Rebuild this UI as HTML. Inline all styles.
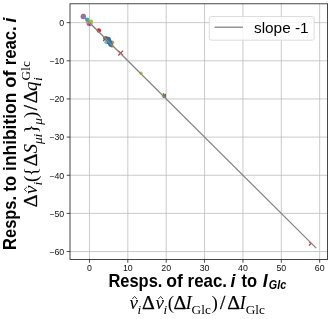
<!DOCTYPE html>
<html><head><meta charset="utf-8"><title>chart</title>
<style>
html,body{margin:0;padding:0;background:#fff;}
body{width:333px;height:319px;overflow:hidden;}
svg{display:block;will-change:transform;}
text{font-family:"Liberation Sans",sans-serif;fill:#000;}
.tick{font-size:8.8px;fill:#111;}
.lab{font-weight:bold;font-size:17.8px;}
.labs{font-weight:bold;font-style:italic;font-size:12px;}
.math{font-family:"Liberation Serif",serif;font-size:19px;}
.ms{font-family:"Liberation Serif",serif;font-size:13.3px;}
.it{font-style:italic;}
</style></head><body>
<svg width="333" height="319" viewBox="0 0 333 319">
<rect x="0" y="0" width="333" height="319" fill="#ffffff"/>

<g stroke="#bebebe" stroke-width="0.8" fill="none">
<line x1="89.45" y1="3.8" x2="89.45" y2="259.4"/>
<line x1="127.82" y1="3.8" x2="127.82" y2="259.4"/>
<line x1="166.19" y1="3.8" x2="166.19" y2="259.4"/>
<line x1="204.56" y1="3.8" x2="204.56" y2="259.4"/>
<line x1="242.93" y1="3.8" x2="242.93" y2="259.4"/>
<line x1="281.30" y1="3.8" x2="281.30" y2="259.4"/>
<line x1="319.67" y1="3.8" x2="319.67" y2="259.4"/>
<line x1="70.0" y1="22.65" x2="327.6" y2="22.65"/>
<line x1="70.0" y1="60.80" x2="327.6" y2="60.80"/>
<line x1="70.0" y1="98.95" x2="327.6" y2="98.95"/>
<line x1="70.0" y1="137.10" x2="327.6" y2="137.10"/>
<line x1="70.0" y1="175.25" x2="327.6" y2="175.25"/>
<line x1="70.0" y1="213.40" x2="327.6" y2="213.40"/>
<line x1="70.0" y1="251.55" x2="327.6" y2="251.55"/>
</g>
<g><circle cx="83.4" cy="15.9" r="2.3" fill="#ff7f0e" fill-opacity="1"/><circle cx="83.3" cy="16.6" r="2.7" fill="#9467bd" fill-opacity="1"/><circle cx="89.7" cy="23.2" r="3.4" fill="#9ecbe8" fill-opacity="0.8"/><circle cx="88.2" cy="22.8" r="2.0" fill="#b09a88" fill-opacity="1"/><circle cx="87.3" cy="19.8" r="2.2" fill="#17becf" fill-opacity="1"/><circle cx="88.4" cy="24.5" r="1.2" fill="#e0409a" fill-opacity="1"/><circle cx="89.9" cy="24.9" r="1.0" fill="#d62728" fill-opacity="1"/><circle cx="90.7" cy="21.8" r="2.4" fill="#b5b62a" fill-opacity="1"/><circle cx="98.9" cy="30.5" r="2.2" fill="#d62728" fill-opacity="1"/><circle cx="106.3" cy="42.3" r="2.0" fill="#5ac8d8" fill-opacity="1"/><circle cx="112.2" cy="42.3" r="1.9" fill="#ff7f0e" fill-opacity="1"/><circle cx="112.1" cy="46.0" r="1.7" fill="#ff7f0e" fill-opacity="1"/><circle cx="105.4" cy="38.2" r="2.3" fill="#2ca02c" fill-opacity="1"/><circle cx="108.4" cy="39.3" r="2.5" fill="#1f77b4" fill-opacity="1"/><circle cx="109.4" cy="42.0" r="2.6" fill="#1f77b4" fill-opacity="1"/><circle cx="110.6" cy="44.6" r="2.4" fill="#1f77b4" fill-opacity="1"/><path d="M103.1 36.699999999999996L107.5 41.1M103.1 41.1L107.5 36.699999999999996" stroke="#d62728" stroke-width="1.1" fill="none"/><path d="M118.3 50.7L123.10000000000001 55.5M118.3 55.5L123.10000000000001 50.7" stroke="#d62728" stroke-width="1.1" fill="none"/><circle cx="141.0" cy="73.3" r="1.7" fill="#c8c820" fill-opacity="1"/><path d="M166.0 93.6L166.0 97.9L161.2 95.9Z" fill="#9a5545"/><circle cx="163.5" cy="94.0" r="0.9" fill="#2ca02c" fill-opacity="1"/><circle cx="163.4" cy="97.3" r="0.8" fill="#2ca02c" fill-opacity="1"/><path d="M311.2 243.0L309.0 245.7M311.0 243.4L309.1 241.9" stroke="#d62728" stroke-width="1.2" fill="none"/></g>
<line x1="81.78" y1="15.02" x2="316.22" y2="248.12" stroke="#878787" stroke-width="1.35"/>
<rect x="70.0" y="3.8" width="257.60" height="255.60" fill="none" stroke="#1a1a1a" stroke-width="0.8"/>
<g stroke="#1a1a1a" stroke-width="0.8">
<line x1="89.45" y1="259.4" x2="89.45" y2="262.70"/>
<line x1="127.82" y1="259.4" x2="127.82" y2="262.70"/>
<line x1="166.19" y1="259.4" x2="166.19" y2="262.70"/>
<line x1="204.56" y1="259.4" x2="204.56" y2="262.70"/>
<line x1="242.93" y1="259.4" x2="242.93" y2="262.70"/>
<line x1="281.30" y1="259.4" x2="281.30" y2="262.70"/>
<line x1="319.67" y1="259.4" x2="319.67" y2="262.70"/>
<line x1="66.70" y1="22.65" x2="70.0" y2="22.65"/>
<line x1="66.70" y1="60.80" x2="70.0" y2="60.80"/>
<line x1="66.70" y1="98.95" x2="70.0" y2="98.95"/>
<line x1="66.70" y1="137.10" x2="70.0" y2="137.10"/>
<line x1="66.70" y1="175.25" x2="70.0" y2="175.25"/>
<line x1="66.70" y1="213.40" x2="70.0" y2="213.40"/>
<line x1="66.70" y1="251.55" x2="70.0" y2="251.55"/>
</g>
<text class="tick" x="89.45" y="270.8" text-anchor="middle">0</text>
<text class="tick" x="127.82" y="270.8" text-anchor="middle">10</text>
<text class="tick" x="166.19" y="270.8" text-anchor="middle">20</text>
<text class="tick" x="204.56" y="270.8" text-anchor="middle">30</text>
<text class="tick" x="242.93" y="270.8" text-anchor="middle">40</text>
<text class="tick" x="281.30" y="270.8" text-anchor="middle">50</text>
<text class="tick" x="319.67" y="270.8" text-anchor="middle">60</text>
<text class="tick" x="64.2" y="25.95" text-anchor="end">0</text>
<text class="tick" x="64.2" y="64.10" text-anchor="end">−10</text>
<text class="tick" x="64.2" y="102.25" text-anchor="end">−20</text>
<text class="tick" x="64.2" y="140.40" text-anchor="end">−30</text>
<text class="tick" x="64.2" y="178.55" text-anchor="end">−40</text>
<text class="tick" x="64.2" y="216.70" text-anchor="end">−50</text>
<text class="tick" x="64.2" y="254.85" text-anchor="end">−60</text>
<rect x="209.3" y="16.5" width="104.9" height="23.7" rx="2.2" ry="2.2" fill="#ffffff" fill-opacity="0.8" stroke="#d4d4d4" stroke-width="0.8"/>
<line x1="214.6" y1="27.2" x2="242.9" y2="27.2" stroke="#878787" stroke-width="1.35"/>
<text x="254.0" y="32.9" font-size="14.4" fill="#111" textLength="54.6" lengthAdjust="spacingAndGlyphs">slope -1</text>
<text class="lab" x="108.40" y="286.9" textLength="54.00" lengthAdjust="spacingAndGlyphs">Resps.</text><text class="lab" x="166.20" y="286.9" textLength="16.60" lengthAdjust="spacingAndGlyphs">of</text><text class="lab" x="187.60" y="286.9" textLength="39.40" lengthAdjust="spacingAndGlyphs">reac.</text><text class="lab" x="230.60" y="286.9" textLength="4.90" lengthAdjust="spacingAndGlyphs" font-style="italic">i</text><text class="lab" x="241.50" y="286.9" textLength="15.60" lengthAdjust="spacingAndGlyphs">to</text><text class="lab" x="262.70" y="286.9" textLength="4.90" lengthAdjust="spacingAndGlyphs" font-style="italic">I</text><text class="labs" x="268.80" y="288.9" textLength="17.40" lengthAdjust="spacingAndGlyphs">Glc</text>
<text class="math" x="129.60" y="309.40" font-style="italic">v</text><text class="ms" x="137.40" y="314.00" font-style="italic">i</text><text class="math" x="142.00" y="309.40" textLength="12.8" stroke="#000" stroke-width="0.25" lengthAdjust="spacingAndGlyphs">Δ</text><text class="math" x="155.60" y="309.40" font-style="italic">v</text><text class="ms" x="163.40" y="314.00" font-style="italic">i</text><text class="math" x="167.70" y="309.40">(</text><text class="math" x="173.40" y="309.40" textLength="12.8" stroke="#000" stroke-width="0.25" lengthAdjust="spacingAndGlyphs">Δ</text><text class="math" x="185.50" y="309.40" font-style="italic">I</text><text class="ms" x="191.60" y="314.00">Glc</text><text class="math" x="211.60" y="309.40">)</text><text class="math" x="220.00" y="309.40" stroke="#000" stroke-width="0.35">/</text><text class="math" x="227.30" y="309.40" textLength="12.8" stroke="#000" stroke-width="0.25" lengthAdjust="spacingAndGlyphs">Δ</text><text class="math" x="239.40" y="309.40" font-style="italic">I</text><text class="ms" x="245.70" y="314.00">Glc</text>
<path d="M132.30 299.00L134.60 296.50L136.90 299.00" fill="none" stroke="#000" stroke-width="0.8"/><path d="M158.30 299.00L160.60 296.50L162.90 299.00" fill="none" stroke="#000" stroke-width="0.8"/>
<g transform="translate(15.5,249.9) rotate(-90)"><text class="lab" x="0.00" y="0" textLength="54.00" lengthAdjust="spacingAndGlyphs">Resps.</text><text class="lab" x="58.30" y="0" textLength="15.60" lengthAdjust="spacingAndGlyphs">to</text><text class="lab" x="79.00" y="0" textLength="78.20" lengthAdjust="spacingAndGlyphs">inhibition</text><text class="lab" x="162.20" y="0" textLength="17.20" lengthAdjust="spacingAndGlyphs">of</text><text class="lab" x="184.70" y="0" textLength="38.90" lengthAdjust="spacingAndGlyphs">reac.</text><text class="lab" x="227.30" y="0" textLength="4.90" lengthAdjust="spacingAndGlyphs" font-style="italic">i</text></g>
<g transform="translate(37.2,207.2) rotate(-90)"><text class="math" x="0.00" y="0.00" textLength="12.8" stroke="#000" stroke-width="0.25" lengthAdjust="spacingAndGlyphs">Δ</text><text class="math" x="13.10" y="0.00" font-style="italic">v</text><text class="ms" x="21.80" y="4.60" font-style="italic">i</text><text class="math" x="25.10" y="0.00">(</text><text class="math" x="31.00" y="0.00">{</text><text class="math" x="41.00" y="0.00" textLength="12.8" stroke="#000" stroke-width="0.25" lengthAdjust="spacingAndGlyphs">Δ</text><text class="math" x="53.80" y="0.00" font-style="italic">S</text><text class="ms" x="63.20" y="4.60" font-style="italic">μ</text><text class="ms" x="69.70" y="4.60" font-style="italic">i</text><text class="math" x="73.60" y="0.00">}</text><text class="ms" x="82.50" y="4.60" font-style="italic">μ</text><text class="math" x="89.30" y="0.00">)</text><text class="math" x="96.90" y="0.00" stroke="#000" stroke-width="0.35">/</text><text class="math" x="104.00" y="0.00" textLength="12.8" stroke="#000" stroke-width="0.25" lengthAdjust="spacingAndGlyphs">Δ</text><text class="math" x="116.20" y="0.00" font-style="italic">q</text><text class="ms" x="126.20" y="4.60" font-style="italic">i</text><text class="ms" x="126.80" y="-6.90">Glc</text><path d="M15.50 -10.40L17.80 -12.90L20.10 -10.40" fill="none" stroke="#000" stroke-width="0.8"/></g>
</svg></body></html>
